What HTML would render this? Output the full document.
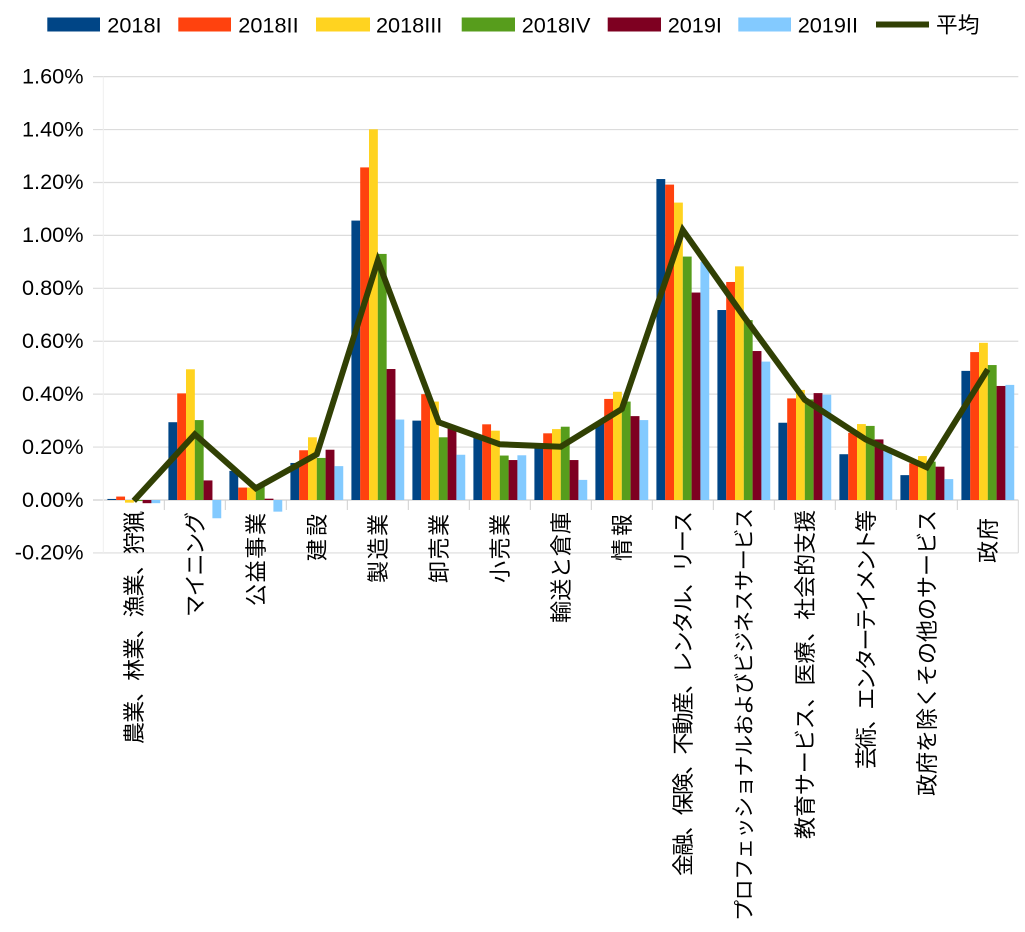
<!DOCTYPE html>
<html><head><meta charset="utf-8"><style>
html,body{margin:0;padding:0;background:#fff;}
svg{display:block;}
.t{font-family:"Liberation Sans","Noto Sans CJK JP",sans-serif;fill:#000;}
</style></head><body>
<svg width="1025" height="932" viewBox="0 0 1025 932" xmlns="http://www.w3.org/2000/svg">
<rect width="1025" height="932" fill="#fff"/>
<!-- legend -->
<g>
<rect x="47.3" y="17.5" width="52.7" height="14" fill="#004586"/>
<text class="t" x="107.3" y="32.3" font-size="21.7">2018I</text>
<rect x="178.3" y="17.5" width="52.7" height="14" fill="#ff420e"/>
<text class="t" x="238.3" y="32.3" font-size="21.7">2018II</text>
<rect x="316" y="17.5" width="54" height="14" fill="#ffd320"/>
<text class="t" x="376" y="32.3" font-size="21.7">2018III</text>
<rect x="461.7" y="17.5" width="53.3" height="14" fill="#579d1c"/>
<text class="t" x="521.7" y="32.3" font-size="21.7">2018IV</text>
<rect x="607.7" y="17.5" width="53.3" height="14" fill="#7e0021"/>
<text class="t" x="667.7" y="32.3" font-size="21.7">2019I</text>
<rect x="738.3" y="17.5" width="52.7" height="14" fill="#83caff"/>
<text class="t" x="797.7" y="32.3" font-size="21.7">2019II</text>
<line x1="876" y1="24.5" x2="929" y2="24.5" stroke="#314004" stroke-width="6"/>
<text class="t" x="936" y="32.3" font-size="21.7">平均</text>
</g>
<!-- gridlines -->
<g stroke="#dcdcdc" stroke-width="1.2">
<line x1="93" y1="76.64" x2="1018.3" y2="76.64"/>
<line x1="93" y1="129.56" x2="1018.3" y2="129.56"/>
<line x1="93" y1="182.48" x2="1018.3" y2="182.48"/>
<line x1="93" y1="235.4" x2="1018.3" y2="235.4"/>
<line x1="93" y1="288.32" x2="1018.3" y2="288.32"/>
<line x1="93" y1="341.24" x2="1018.3" y2="341.24"/>
<line x1="93" y1="394.16" x2="1018.3" y2="394.16"/>
<line x1="93" y1="447.08" x2="1018.3" y2="447.08"/>
<line x1="93" y1="500" x2="1018.3" y2="500" stroke="#cfcfcf"/>
<line x1="93" y1="552.92" x2="1018.3" y2="552.92"/>
</g>
<line x1="103.3" y1="76.64" x2="103.3" y2="552.92" stroke="#efefef" stroke-width="1"/>
<line x1="1018.3" y1="500" x2="1018.3" y2="552.92" stroke="#d6d6d6" stroke-width="1"/>
<g stroke="#cfcfcf" stroke-width="1">
<line x1="164.3" y1="500" x2="164.3" y2="510"/>
<line x1="225.3" y1="500" x2="225.3" y2="510"/>
<line x1="286.3" y1="500" x2="286.3" y2="510"/>
<line x1="347.3" y1="500" x2="347.3" y2="510"/>
<line x1="408.3" y1="500" x2="408.3" y2="510"/>
<line x1="469.3" y1="500" x2="469.3" y2="510"/>
<line x1="530.3" y1="500" x2="530.3" y2="510"/>
<line x1="591.3" y1="500" x2="591.3" y2="510"/>
<line x1="652.3" y1="500" x2="652.3" y2="510"/>
<line x1="713.3" y1="500" x2="713.3" y2="510"/>
<line x1="774.3" y1="500" x2="774.3" y2="510"/>
<line x1="835.3" y1="500" x2="835.3" y2="510"/>
<line x1="896.3" y1="500" x2="896.3" y2="510"/>
<line x1="957.3" y1="500" x2="957.3" y2="510"/>
</g>
<!-- bars -->
<g transform="translate(0,500) scale(1,-1)">
<g fill="#004586">
<rect x="107.4" y="0" width="8.85" height="1.06"/>
<rect x="168.4" y="0" width="8.85" height="77.79"/>
<rect x="229.4" y="0" width="8.85" height="29.11"/>
<rect x="290.4" y="0" width="8.85" height="37.04"/>
<rect x="351.4" y="0" width="8.85" height="279.42"/>
<rect x="412.4" y="0" width="8.85" height="79.38"/>
<rect x="473.4" y="0" width="8.85" height="64.83"/>
<rect x="534.4" y="0" width="8.85" height="54.24"/>
<rect x="595.4" y="0" width="8.85" height="76.73"/>
<rect x="656.4" y="0" width="8.85" height="320.96"/>
<rect x="717.4" y="0" width="8.85" height="189.98"/>
<rect x="778.4" y="0" width="8.85" height="77.26"/>
<rect x="839.4" y="0" width="8.85" height="45.78"/>
<rect x="900.4" y="0" width="8.85" height="24.87"/>
<rect x="961.4" y="0" width="8.85" height="129.12"/>
</g>
<g fill="#ff420e">
<rect x="116.2" y="0" width="8.85" height="3.44"/>
<rect x="177.2" y="0" width="8.85" height="106.63"/>
<rect x="238.2" y="0" width="8.85" height="12.44"/>
<rect x="299.2" y="0" width="8.85" height="49.74"/>
<rect x="360.2" y="0" width="8.85" height="332.6"/>
<rect x="421.2" y="0" width="8.85" height="105.84"/>
<rect x="482.2" y="0" width="8.85" height="75.68"/>
<rect x="543.2" y="0" width="8.85" height="66.68"/>
<rect x="604.2" y="0" width="8.85" height="101.08"/>
<rect x="665.2" y="0" width="8.85" height="315.4"/>
<rect x="726.2" y="0" width="8.85" height="218.03"/>
<rect x="787.2" y="0" width="8.85" height="101.61"/>
<rect x="848.2" y="0" width="8.85" height="67.21"/>
<rect x="909.2" y="0" width="8.85" height="36.78"/>
<rect x="970.2" y="0" width="8.85" height="147.91"/>
</g>
<g fill="#ffd320">
<rect x="125" y="-2.65" width="8.85" height="2.65"/>
<rect x="186" y="0" width="8.85" height="130.71"/>
<rect x="247" y="0" width="8.85" height="12.44"/>
<rect x="308" y="0" width="8.85" height="62.71"/>
<rect x="369" y="0" width="8.85" height="370.7"/>
<rect x="430" y="0" width="8.85" height="98.43"/>
<rect x="491" y="0" width="8.85" height="69.33"/>
<rect x="552" y="0" width="8.85" height="70.91"/>
<rect x="613" y="0" width="8.85" height="108.22"/>
<rect x="674" y="0" width="8.85" height="297.41"/>
<rect x="735" y="0" width="8.85" height="233.64"/>
<rect x="796" y="0" width="8.85" height="110.07"/>
<rect x="857" y="0" width="8.85" height="75.94"/>
<rect x="918" y="0" width="8.85" height="43.92"/>
<rect x="979" y="0" width="8.85" height="157.17"/>
</g>
<g fill="#579d1c">
<rect x="133.8" y="-1.06" width="8.85" height="1.06"/>
<rect x="194.8" y="0" width="8.85" height="79.91"/>
<rect x="255.8" y="0" width="8.85" height="15.61"/>
<rect x="316.8" y="0" width="8.85" height="42.07"/>
<rect x="377.8" y="0" width="8.85" height="246.08"/>
<rect x="438.8" y="0" width="8.85" height="62.71"/>
<rect x="499.8" y="0" width="8.85" height="44.45"/>
<rect x="560.8" y="0" width="8.85" height="73.29"/>
<rect x="621.8" y="0" width="8.85" height="98.43"/>
<rect x="682.8" y="0" width="8.85" height="243.43"/>
<rect x="743.8" y="0" width="8.85" height="179.93"/>
<rect x="804.8" y="0" width="8.85" height="100.55"/>
<rect x="865.8" y="0" width="8.85" height="74.09"/>
<rect x="926.8" y="0" width="8.85" height="38.37"/>
<rect x="987.8" y="0" width="8.85" height="134.95"/>
</g>
<g fill="#7e0021">
<rect x="142.6" y="-3.18" width="8.85" height="3.18"/>
<rect x="203.6" y="0" width="8.85" height="19.58"/>
<rect x="264.6" y="0" width="8.85" height="1.32"/>
<rect x="325.6" y="0" width="8.85" height="50.27"/>
<rect x="386.6" y="0" width="8.85" height="130.98"/>
<rect x="447.6" y="0" width="8.85" height="71.44"/>
<rect x="508.6" y="0" width="8.85" height="39.95"/>
<rect x="569.6" y="0" width="8.85" height="39.95"/>
<rect x="630.6" y="0" width="8.85" height="83.88"/>
<rect x="691.6" y="0" width="8.85" height="207.45"/>
<rect x="752.6" y="0" width="8.85" height="148.97"/>
<rect x="813.6" y="0" width="8.85" height="106.9"/>
<rect x="874.6" y="0" width="8.85" height="60.59"/>
<rect x="935.6" y="0" width="8.85" height="33.34"/>
<rect x="996.6" y="0" width="8.85" height="114.04"/>
</g>
<g fill="#83caff">
<rect x="151.4" y="-3.18" width="8.85" height="3.18"/>
<rect x="212.4" y="-18.26" width="8.85" height="18.26"/>
<rect x="273.4" y="-11.64" width="8.85" height="11.64"/>
<rect x="334.4" y="0" width="8.85" height="33.87"/>
<rect x="395.4" y="0" width="8.85" height="80.44"/>
<rect x="456.4" y="0" width="8.85" height="45.25"/>
<rect x="517.4" y="0" width="8.85" height="44.72"/>
<rect x="578.4" y="0" width="8.85" height="20.11"/>
<rect x="639.4" y="0" width="8.85" height="79.91"/>
<rect x="700.4" y="0" width="8.85" height="238.14"/>
<rect x="761.4" y="0" width="8.85" height="138.39"/>
<rect x="822.4" y="0" width="8.85" height="105.31"/>
<rect x="883.4" y="0" width="8.85" height="48.95"/>
<rect x="944.4" y="0" width="8.85" height="20.9"/>
<rect x="1005.4" y="0" width="8.85" height="115.1"/>
</g>
</g>
<!-- average line -->
<polyline fill="none" stroke="#314004" stroke-width="6" stroke-linejoin="miter" stroke-miterlimit="4" stroke-linecap="butt"
points="133.8,500.8 194.8,434.3 255.8,488.3 316.8,454.3 377.8,260.7 438.8,422.3 499.8,444.3 560.8,446.7 621.8,409 682.8,230 743.8,316.5 804.8,399.8 865.8,439.5 926.8,467.3 987.8,369.3"/>
<!-- y axis labels -->
<g class="t" font-size="21.7" text-anchor="end">
<text class="t" x="83.5" y="83.4">1.60%</text>
<text class="t" x="83.5" y="136.3">1.40%</text>
<text class="t" x="83.5" y="189.2">1.20%</text>
<text class="t" x="83.5" y="242.1">1.00%</text>
<text class="t" x="83.5" y="295.1">0.80%</text>
<text class="t" x="83.5" y="348">0.60%</text>
<text class="t" x="83.5" y="400.9">0.40%</text>
<text class="t" x="83.5" y="453.8">0.20%</text>
<text class="t" x="83.5" y="506.8">0.00%</text>
<text class="t" x="83.5" y="559.7">-0.20%</text>
</g>
<!-- category labels -->
<g class="t" font-size="22">
<text class="t" transform="translate(141.8,744) rotate(-90)" textLength="233" lengthAdjust="spacing">農業、林業、漁業、狩猟</text>
<text class="t" transform="translate(202.8,617) rotate(-90)" textLength="105" lengthAdjust="spacing">マイニング</text>
<text class="t" transform="translate(263.8,606) rotate(-90)" textLength="93" lengthAdjust="spacing">公益事業</text>
<text class="t" transform="translate(324.8,561) rotate(-90)" textLength="47" lengthAdjust="spacing">建設</text>
<text class="t" transform="translate(385.8,583) rotate(-90)" textLength="69" lengthAdjust="spacing">製造業</text>
<text class="t" transform="translate(446.8,583) rotate(-90)" textLength="69" lengthAdjust="spacing">卸売業</text>
<text class="t" transform="translate(507.8,583) rotate(-90)" textLength="69" lengthAdjust="spacing">小売業</text>
<text class="t" transform="translate(568.8,623) rotate(-90)" textLength="111" lengthAdjust="spacing">輸送と倉庫</text>
<text class="t" transform="translate(629.8,561) rotate(-90)" textLength="47" lengthAdjust="spacing">情報</text>
<text class="t" transform="translate(690.8,876) rotate(-90)" textLength="365" lengthAdjust="spacing">金融、保険、不動産、レンタル、リース</text>
<text class="t" transform="translate(751.5,921) rotate(-90)" font-size="21" textLength="413" lengthAdjust="spacing">プロフェッショナルおよびビジネスサービス</text>
<text class="t" transform="translate(812.8,839) rotate(-90)" textLength="329" lengthAdjust="spacing">教育サービス、医療、社会的支援</text>
<text class="t" transform="translate(873.8,769) rotate(-90)" textLength="259" lengthAdjust="spacing">芸術、エンターテイメント等</text>
<text class="t" transform="translate(934.8,796) rotate(-90)" textLength="286" lengthAdjust="spacing">政府を除くその他のサービス</text>
<text class="t" transform="translate(995.8,563) rotate(-90)" textLength="45" lengthAdjust="spacing">政府</text>
</g>
</svg>
</body></html>
